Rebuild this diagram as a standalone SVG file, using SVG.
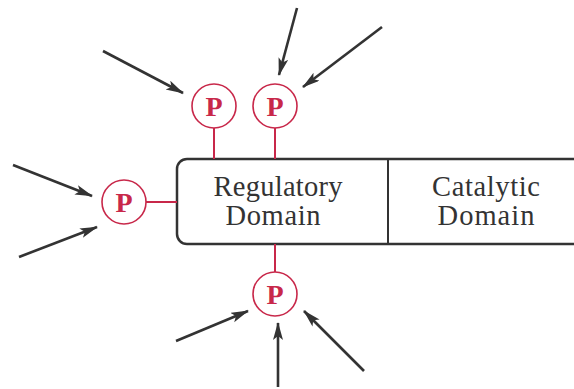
<svg xmlns="http://www.w3.org/2000/svg" width="574" height="389" viewBox="0 0 574 389">
<style>
.arr{stroke:#333;stroke-width:2.6;fill:none;marker-end:url(#ah)}
.stem{stroke:#c8284a;stroke-width:2}
.pc{fill:#fff;stroke:#c8284a;stroke-width:1.6}
.pt{font-family:"Liberation Serif",serif;font-weight:bold;font-size:28px;fill:#c8284a;text-anchor:middle}
.lbl{font-family:"Liberation Serif",serif;font-size:28.5px;fill:#333;text-anchor:middle}
.box{fill:none;stroke:#333;stroke-width:2.5}
</style>
<defs>
<marker id="ah" markerUnits="userSpaceOnUse" markerWidth="20" markerHeight="12" refX="17" refY="5" orient="auto">
<path d="M0,0 L18,5 L0,10 L4,5 Z" fill="#333"/>
</marker>
</defs>
<g id="domains">
<path class="box" d="M574 159 H187 A10 10 0 0 0 177 169 V234 A10 10 0 0 0 187 244 H574"/>
<line x1="388" y1="159" x2="388" y2="244" stroke="#333" stroke-width="2"/>
<text class="lbl" x="278" y="196" textLength="129">Regulatory</text>
<text class="lbl" x="273" y="225" textLength="95">Domain</text>
<text class="lbl" x="486" y="196" textLength="108">Catalytic</text>
<text class="lbl" x="486" y="225" textLength="97">Domain</text>
</g>
<g id="p-top-left">
<line class="stem" x1="214" y1="128" x2="214" y2="159"/>
<circle class="pc" cx="214" cy="106" r="22"/>
<text class="pt" x="214" y="116">P</text>
</g>
<g id="p-top-right">
<line class="stem" x1="275" y1="128" x2="275" y2="159"/>
<circle class="pc" cx="275" cy="106" r="22"/>
<text class="pt" x="275" y="116">P</text>
</g>
<g id="p-left">
<line class="stem" x1="146" y1="202" x2="177" y2="202"/>
<circle class="pc" cx="124" cy="202" r="22"/>
<text class="pt" x="124" y="212">P</text>
</g>
<g id="p-bottom">
<line class="stem" x1="275" y1="244" x2="275" y2="272"/>
<circle class="pc" cx="275" cy="294" r="22"/>
<text class="pt" x="275" y="304">P</text>
</g>
<g id="connectors">
<line class="arr" x1="103" y1="51" x2="183" y2="93"/>
<line class="arr" x1="297" y1="8" x2="279" y2="75"/>
<line class="arr" x1="382" y1="27" x2="303" y2="87"/>
<line class="arr" x1="13" y1="165" x2="92" y2="196"/>
<line class="arr" x1="19" y1="257" x2="97" y2="227"/>
<line class="arr" x1="176" y1="341" x2="248" y2="311"/>
<line class="arr" x1="278" y1="387" x2="278" y2="323"/>
<line class="arr" x1="364" y1="371" x2="304" y2="311"/>
</g>
</svg>
